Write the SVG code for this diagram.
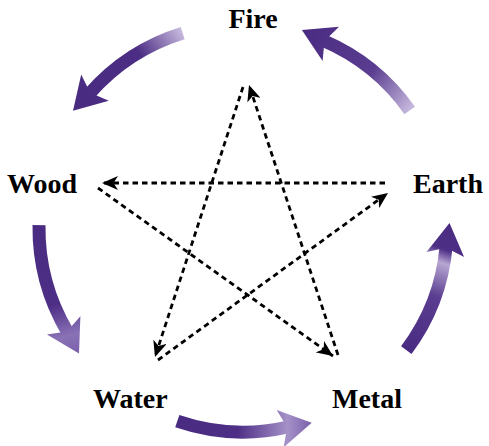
<svg xmlns="http://www.w3.org/2000/svg" width="489" height="446" viewBox="0 0 489 446">
<style>
.lbl{font-family:"Liberation Serif","Times New Roman",serif;font-weight:bold;font-size:28px;fill:#000}
.dash{fill:none;stroke:#000;stroke-width:2.8;stroke-dasharray:5.5 4;marker-end:url(#ah)}
.body{fill:none;stroke-width:13;stroke-linecap:butt}
</style>
<defs>
<marker id="ah" markerUnits="userSpaceOnUse" markerWidth="18" markerHeight="14" refX="16" refY="7" orient="auto">
<path d="M0,0 L16,7 L0,14 L4.5,7 Z" fill="#000"/>
</marker>
<linearGradient id="gA" gradientUnits="userSpaceOnUse" x1="182.7" y1="33.1" x2="73" y2="110.8">
<stop offset="0" stop-color="#c6b8dd"/><stop offset="0.35" stop-color="#4c2d84"/><stop offset="1" stop-color="#4a2b82"/>
</linearGradient>
<linearGradient id="gB" gradientUnits="userSpaceOnUse" x1="409.7" y1="110.4" x2="301.9" y2="30.1">
<stop offset="0" stop-color="#c6b8dd"/><stop offset="0.4" stop-color="#5a3d90"/><stop offset="1" stop-color="#4a2b82"/>
</linearGradient>
<linearGradient id="gL" gradientUnits="userSpaceOnUse" x1="39" y1="225.2" x2="79" y2="353.4">
<stop offset="0" stop-color="#4a2b82"/><stop offset="0.6" stop-color="#4e2f86"/><stop offset="0.85" stop-color="#8a72b6"/><stop offset="1" stop-color="#7a60aa"/>
</linearGradient>
<linearGradient id="gM" gradientUnits="userSpaceOnUse" x1="177.3" y1="421.1" x2="311.7" y2="422.8">
<stop offset="0" stop-color="#4a2b82"/><stop offset="0.45" stop-color="#4e2f86"/><stop offset="0.82" stop-color="#a591c8"/><stop offset="1" stop-color="#7a60aa"/>
</linearGradient>
<linearGradient id="gR" gradientUnits="userSpaceOnUse" x1="406.3" y1="350.2" x2="449.5" y2="222.9">
<stop offset="0" stop-color="#4a2b82"/><stop offset="0.45" stop-color="#5a3d90"/><stop offset="0.7" stop-color="#b7a6d2"/><stop offset="0.8" stop-color="#4e2f86"/><stop offset="1" stop-color="#4a2b82"/>
</linearGradient>
</defs>

<g id="cycle">
<g id="arrow-fire-wood">
<path class="body" stroke="url(#gA)" d="M182.7,33.1 A204,204 0 0 0 89.6,93.5"/>
<path fill="url(#gA)" d="M73,110.8 L81.2,74.5 L90.2,92.7 L108.8,100.7 Z"/>
</g>
<g id="arrow-earth-fire">
<path class="body" stroke="url(#gB)" d="M409.7,110.4 A204,204 0 0 0 323.5,40.6"/>
<path fill="url(#gB)" d="M301.9,30.1 L339,26.8 L324.5,40.9 L322.6,61 Z"/>
</g>
<g id="arrow-wood-water">
<path class="body" stroke="url(#gL)" d="M39,225.2 A204,204 0 0 0 67.7,332.3"/>
<path fill="url(#gL)" d="M79,353.4 L47,334.4 L67,331.5 L80.4,316.2 Z"/>
</g>
<g id="arrow-water-metal">
<path class="body" stroke="url(#gM)" d="M177.3,421.1 A204,204 0 0 0 288,427"/>
<path fill="url(#gM)" d="M311.7,422.8 L283.7,447.3 L287.1,427.3 L276.7,409.9 Z"/>
</g>
<g id="arrow-metal-earth">
<path class="body" stroke="url(#gR)" d="M406.3,350.2 A204,204 0 0 0 446.1,246.7"/>
<path fill="url(#gR)" d="M449.5,222.9 L464.1,257.1 L446.2,247.7 L426.5,252.1 Z"/>
</g>
</g>

<g id="connectors">
<line class="dash" x1="385" y1="183" x2="102" y2="183"/>
<line class="dash" x1="98" y1="188" x2="333" y2="356"/>
<line class="dash" x1="338" y1="355" x2="249" y2="85"/>
<line class="dash" x1="243" y1="87" x2="155" y2="357"/>
<line class="dash" x1="158" y1="360" x2="388" y2="193"/>
</g>

<g id="fire"><text class="lbl" x="253" y="28" text-anchor="middle">Fire</text></g>
<g id="wood"><text class="lbl" x="7" y="193">Wood</text></g>
<g id="earth"><text class="lbl" x="413" y="193">Earth</text></g>
<g id="water"><text class="lbl" x="93" y="408">Water</text></g>
<g id="metal"><text class="lbl" x="332" y="408">Metal</text></g>
</svg>
